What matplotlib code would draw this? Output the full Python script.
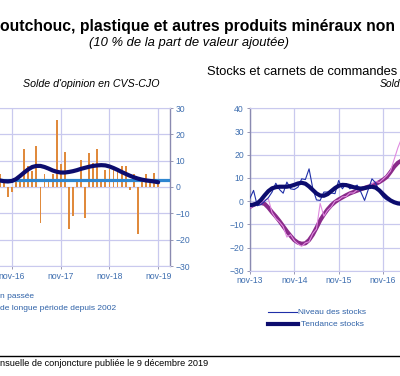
import matplotlib
matplotlib.use("Agg")
import matplotlib.pyplot as plt
from matplotlib.lines import Line2D
import numpy as np

plt.rcParams['font.family'] = ['Liberation Sans', 'DejaVu Sans']

W, H = 400, 376

# left panel: monthly opinion balance, month index 0 = nov-16
left_months = list(range(-3, 37))
left_bars = [5, 2, -3.7, -1.8, 2, 3, 14.5, 8, 6, 15.5,
             -13.7, 5, 2, 5, 25.5, 8.7, 13.3, -16, -11.2, 2,
             10.3, -11.6, 13, 9.3, 14.5, 2, 6.5, 7, 6.5, 7,
             8, 8, -1.1, 5, -17.8, 2, 5, 2, 5.5, 2]
left_trend = [2.5, 2.2, 2.1, 2.3, 3.0, 4.2, 5.5, 6.7, 7.6, 8.0,
              8.0, 7.6, 7.0, 6.3, 5.8, 5.5, 5.5, 5.7, 6.0, 6.4,
              6.9, 7.3, 7.7, 8.0, 8.2, 8.3, 8.2, 7.8, 7.2, 6.5,
              5.7, 5.0, 4.3, 3.7, 3.2, 2.8, 2.5, 2.3, 2.1, 1.8]
left_mean = 2.5
left_ticks = [0, 12, 24, 36]
left_labels = ["nov-16", "nov-17", "nov-18", "nov-19"]

# right panel: stocks and order books, month index 0 = nov-13
right_months = list(range(0, 42))
stock_level = [1.2, 4.6, -2.0, -1.5, 0.0, 1.5, 3.9, 7.7, 5.0, 3.4,
               8.2, 5.3, 5.0, 6.0, 9.6, 9.3, 13.9, 5.5, 0.5, 0.3,
               3.9, 3.9, 3.5, 3.2, 8.9, 5.3, 7.5, 5.3, 6.0, 6.9,
               3.9, 0.3, 5.0, 9.6, 7.8, 3.9, 1.7, 0.5, 0.3, -0.3,
               -0.8, -1.0]
stock_trend = [-1.8, -1.5, -1.0, 0.5, 2.5, 4.3, 5.5, 6.0, 6.2, 6.2,
               6.2, 6.5, 7.0, 7.6, 7.9, 7.5, 6.3, 4.8, 3.3, 2.4,
               2.3, 3.0, 4.3, 5.6, 6.6, 7.0, 6.9, 6.5, 6.0, 5.6,
               5.4, 5.6, 6.0, 6.2, 5.8, 4.6, 3.0, 1.5, 0.3, -0.5,
               -1.0, -1.2]
order_level = [-3.0, -2.0, -0.5, -1.0, 0.5, 1.0, -5.0, -7.5, -9.0, -11.0,
               -15.5, -14.5, -17.0, -18.5, -19.5, -18.0, -17.5, -14.0, -12.0, -1.0,
               -6.5, -4.0, -2.5, 0.0, 0.5, 1.8, 2.0, 3.5, 3.5, 4.8,
               5.0, 6.0, 5.8, 7.5, 8.5, 8.0, 9.5, 11.0, 13.0, 18.0,
               23.0, 27.0]
order_trend = [-2.5, -1.6, -1.0, -0.8, -1.2, -2.8, -4.8, -6.6, -8.6, -10.8,
               -13.0, -15.0, -16.8, -17.9, -18.4, -18.2, -16.8, -14.5, -11.5, -8.3,
               -5.8, -3.6, -1.8, -0.4, 0.7, 1.6, 2.5, 3.3, 3.9, 4.5,
               5.1, 5.7, 6.2, 6.8, 7.4, 8.2, 9.2, 10.4, 12.5, 14.8,
               16.5, 17.5]
right_ticks = [0, 12, 24, 36]
right_labels = ["nov-13", "nov-14", "nov-15", "nov-16"]

grid_col = "#C9C9EE"
tick_col = "#3F6FB0"
navy = "#0C0C6E"


def fx(x):
    return x / W


def fy(y):
    return 1 - y / H


fig = plt.figure(figsize=(4, 3.76), dpi=100)

# ---- left panel (cut on the left side) ----
ax1_left, ax1_right = -80, 170
ax1 = fig.add_axes([fx(ax1_left), fy(266), (ax1_right - ax1_left) / W, (266 - 108) / H])
m_per_px = 1 / 4.06
ax1.set_xlim((ax1_left - 12) * m_per_px, (ax1_right - 12) * m_per_px)
ax1.set_ylim(-30, 30)
ax1.bar(left_months, left_bars, width=0.45, color="#E08A3C", zorder=2)
ax1.axhline(left_mean, color="#2E86D0", lw=2.3, zorder=3)
ax1.plot(left_months, left_trend, color=navy, lw=3, zorder=4, solid_capstyle='round')
ax1.set_xticks(left_ticks)
ax1.set_xticklabels(left_labels)
ax1.set_yticks(range(-30, 31, 10))
ax1.yaxis.tick_right()
ax1.grid(True, color=grid_col, lw=0.9, zorder=0)
ax1.set_axisbelow(True)
ax1.tick_params(axis='both', labelsize=6.2, labelcolor=tick_col, color="#8888AA",
                length=2, width=0.6, pad=2)
for s in ['top', 'left', 'bottom']:
    ax1.spines[s].set_color(grid_col)
ax1.spines['right'].set_color("#8A8AB0")
ax1.spines['right'].set_linewidth(1.0)

# ---- right panel (cut on the right side) ----
ax2_left, ax2_right = 249.5, 520
ax2 = fig.add_axes([fx(ax2_left), fy(270.7), (ax2_right - ax2_left) / W, (270.7 - 108.3) / H])
m2_per_px = 1 / 3.7
ax2.set_xlim(-0.1, -0.1 + (ax2_right - ax2_left) * m2_per_px)
ax2.set_ylim(-30, 40)
ax2.plot(right_months, order_trend, color="#8A2B8A", lw=3, zorder=3)
ax2.plot(right_months, order_level, color="#E08AE0", lw=0.8, zorder=4)
ax2.plot(right_months, stock_level, color="#1F2FA8", lw=0.8, zorder=5)
ax2.plot(right_months, stock_trend, color=navy, lw=3, zorder=6)
ax2.set_xticks(right_ticks)
ax2.set_xticklabels(right_labels)
ax2.set_yticks(range(-30, 41, 10))
ax2.grid(True, color=grid_col, lw=0.9, zorder=0)
ax2.set_axisbelow(True)
ax2.tick_params(axis='both', labelsize=6.2, labelcolor=tick_col, color="#8888AA",
                length=2, width=0.6, pad=2)
for s in ['top', 'right', 'bottom']:
    ax2.spines[s].set_color(grid_col)
ax2.spines['left'].set_color("#8A8AB0")
ax2.spines['left'].set_linewidth(1.0)

# ---- titles ----
fig.text(fx(0), fy(26), "outchouc, plastique et autres produits minéraux non",
         fontsize=11.3, fontweight='bold', ha='left', va='center')
fig.text(fx(189), fy(43), "(10 % de la part de valeur ajoutée)",
         fontsize=9.4, style='italic', ha='center', va='center')
fig.text(fx(91), fy(84), "Solde d'opinion en CVS-CJO",
         fontsize=7.7, style='italic', ha='center', va='center')
fig.text(fx(207), fy(72), "Stocks et carnets de commandes",
         fontsize=9.3, ha='left', va='center')
fig.text(fx(380), fy(84), "Sold",
         fontsize=7.4, style='italic', ha='left', va='center')

# ---- legends ----
leg_col = "#2F62A8"
fig.text(fx(0), fy(297), "n passée", fontsize=6, color=leg_col, ha='left', va='center')
fig.text(fx(0), fy(309), "de longue période depuis 2002", fontsize=6, color=leg_col,
         ha='left', va='center')

fig.add_artist(Line2D([fx(268), fx(297)], [fy(312), fy(312)], color="#1F2FA8", lw=0.8))
fig.text(fx(298), fy(312), "Niveau des stocks", fontsize=6, color=leg_col, ha='left', va='center')
fig.add_artist(Line2D([fx(268), fx(298)], [fy(324), fy(324)], color=navy, lw=3))
fig.text(fx(301), fy(324), "Tendance stocks", fontsize=6, color=leg_col, ha='left', va='center')

# ---- footer ----
fig.add_artist(Line2D([0, 1], [fy(356), fy(356)], color="black", lw=1))
fig.text(fx(0), fy(364), "nsuelle de conjoncture publiée le 9 décembre 2019",
         fontsize=6.6, ha='left', va='center')

fig.savefig("out.png", dpi=100)
